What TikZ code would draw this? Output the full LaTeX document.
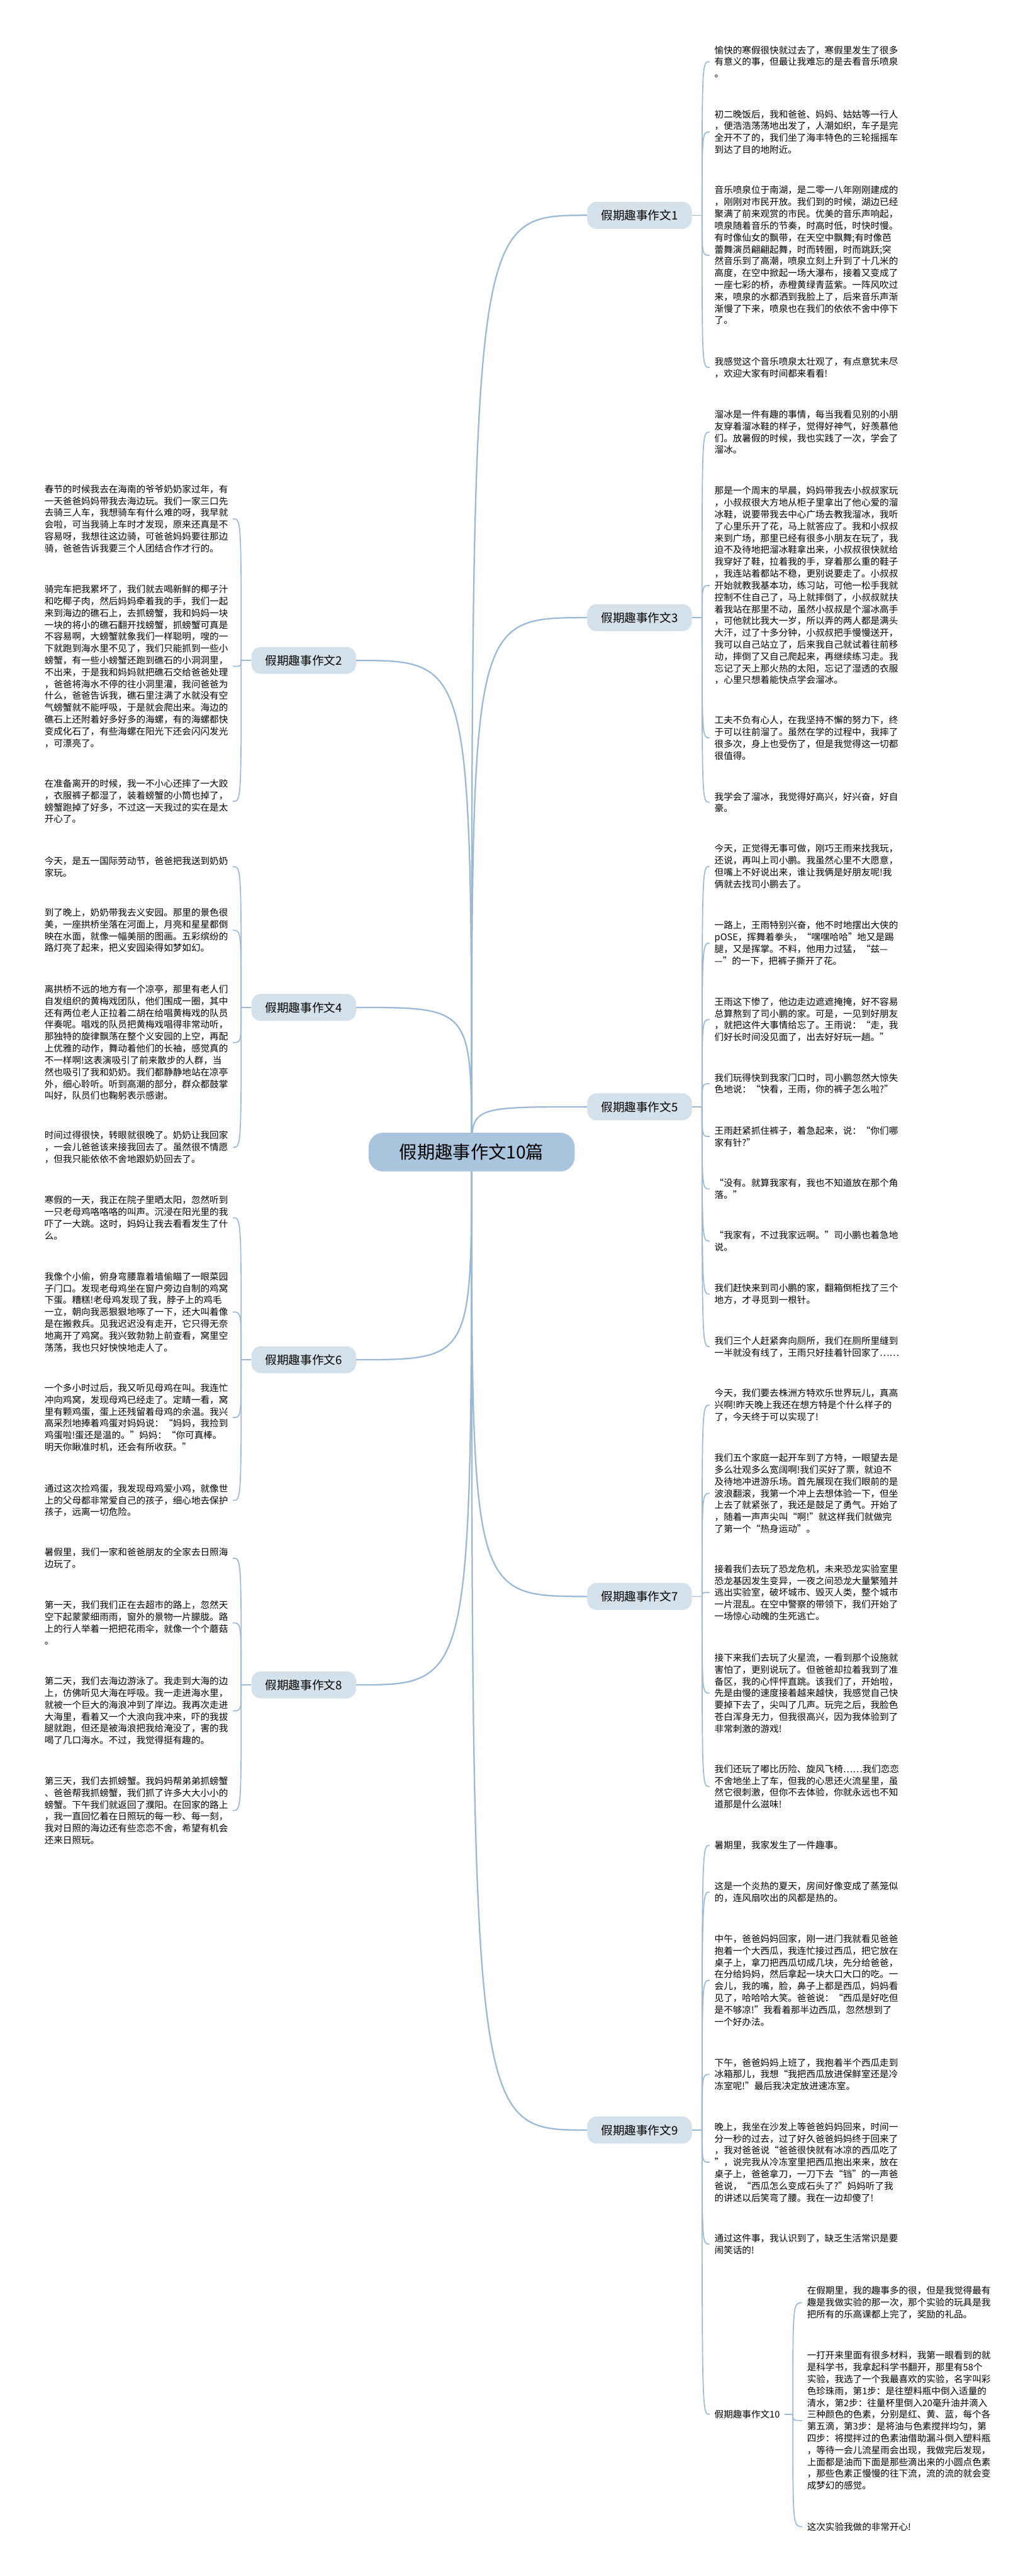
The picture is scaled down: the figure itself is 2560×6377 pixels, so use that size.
\documentclass[tikz,border=0pt]{standalone}
\usepackage{fontspec}
\setmainfont{Noto Sans CJK SC}
\definecolor{linkblue}{RGB}{155,184,213}
\definecolor{topicfill}{RGB}{213,225,234}
\definecolor{rootfill}{RGB}{170,196,221}

\begin{document}
\begin{tikzpicture}[x=1pt,y=1pt,yscale=-1,xscale=1,
    leafbox/.style={anchor=north west, inner xsep=12pt, inner ysep=0pt, align=left, font=\fontsize{22.7pt}{29.3pt}\selectfont},
    topicbox/.style={fill=topicfill, rounded corners=24pt, minimum width=259pt, minimum height=67pt, inner sep=0pt, font=\fontsize{29pt}{34pt}\selectfont},
    rootbox/.style={fill=rootfill, rounded corners=36pt, minimum width=510pt, minimum height=96pt, inner sep=0pt, font=\fontsize{44pt}{52pt}\selectfont},
    mainlink/.style={draw=linkblue, line width=3.5pt},
    sublink/.style={draw=linkblue, line width=2.6pt}]
        \useasboundingbox (0,0) rectangle (2560,6377);
        \fill [white] (0,0) rectangle (2560,6377);
        % Topic Node
        \node (b1) [topicbox] at (1582.5,533) {假期趣事作文1};
        \node (b3) [topicbox] at (1582.5,1529) {假期趣事作文3};
        \node (b5) [topicbox] at (1582.5,2740) {假期趣事作文5};
        \node (b7) [topicbox] at (1582.5,3952) {假期趣事作文7};
        \node (b9) [topicbox] at (1582.5,5273) {假期趣事作文9};
        \node (b2) [topicbox] at (751.5,1635) {假期趣事作文2};
        \node (b4) [topicbox] at (751.5,2494) {假期趣事作文4};
        \node (b6) [topicbox] at (751.5,3366) {假期趣事作文6};
        \node (b8) [topicbox] at (751.5,4171) {假期趣事作文8};
        \node (b10) [leafbox, anchor=west] at (1756,5977) {假期趣事作文10};
        % Connection
        \coordinate (rc) at (1167,2852);
        \draw [mainlink] (rc) .. controls (rc |- b1.west) .. (b1.west);
        \draw [mainlink] (rc) .. controls (rc |- b3.west) .. (b3.west);
        \draw [mainlink] (rc) .. controls (rc |- b5.west) .. (b5.west);
        \draw [mainlink] (rc) .. controls (rc |- b7.west) .. (b7.west);
        \draw [mainlink] (rc) .. controls (rc |- b9.west) .. (b9.west);
        \draw [mainlink] (rc) .. controls (rc |- b2.east) .. (b2.east);
        \draw [mainlink] (rc) .. controls (rc |- b4.east) .. (b4.east);
        \draw [mainlink] (rc) .. controls (rc |- b6.east) .. (b6.east);
        \draw [mainlink] (rc) .. controls (rc |- b8.east) .. (b8.east);
        % Root Node
        \node (root) [rootbox] at (rc) {假期趣事作文10篇};

        % Text Node
        \node (c1a) [leafbox] at (1756,113) {愉快的寒假很快就过去了，寒假里发生了很多\\有意义的事，但最让我难忘的是去看音乐喷泉\\。};
        \node (c1b) [leafbox] at (1756,272) {初二晚饭后，我和爸爸、妈妈、姑姑等一行人\\，便浩浩荡荡地出发了，人潮如织，车子是完\\全开不了的，我们坐了海丰特色的三轮摇摇车\\到达了目的地附近。};
        \node (c1c) [leafbox] at (1756,460) {音乐喷泉位于南湖，是二零一八年刚刚建成的\\，刚刚对市民开放。我们到的时候，湖边已经\\聚满了前来观赏的市民。优美的音乐声响起，\\喷泉随着音乐的节奏，时高时低，时快时慢。\\有时像仙女的飘带，在天空中飘舞;有时像芭\\蕾舞演员翩翩起舞，时而转圈，时而跳跃;突\\然音乐到了高潮，喷泉立刻上升到了十几米的\\高度，在空中掀起一场大瀑布，接着又变成了\\一座七彩的桥，赤橙黄绿青蓝紫。一阵风吹过\\来，喷泉的水都洒到我脸上了，后来音乐声渐\\渐慢了下来，喷泉也在我们的依依不舍中停下\\了。};
        \node (c1d) [leafbox] at (1756,884) {我感觉这个音乐喷泉太壮观了，有点意犹未尽\\，欢迎大家有时间都来看看!};
        % Text Node
        \node (c3a) [leafbox] at (1756,1015) {溜冰是一件有趣的事情，每当我看见别的小朋\\友穿着溜冰鞋的样子，觉得好神气，好羡慕他\\们。放暑假的时候，我也实践了一次，学会了\\溜冰。};
        \node (c3b) [leafbox] at (1756,1204) {那是一个周末的早晨，妈妈带我去小叔叔家玩\\，小叔叔很大方地从柜子里拿出了他心爱的溜\\冰鞋，说要带我去中心广场去教我溜冰，我听\\了心里乐开了花，马上就答应了。我和小叔叔\\来到广场，那里已经有很多小朋友在玩了，我\\迫不及待地把溜冰鞋拿出来，小叔叔很快就给\\我穿好了鞋，拉着我的手，穿着那么重的鞋子\\，我连站着都站不稳，更别说要走了。小叔叔\\开始就教我基本功，练习站，可他一松手我就\\控制不住自己了，马上就摔倒了，小叔叔就扶\\着我站在那里不动，虽然小叔叔是个溜冰高手\\，可他就比我大一岁，所以弄的两人都是满头\\大汗，过了十多分钟，小叔叔把手慢慢送开，\\我可以自己站立了，后来我自己就试着往前移\\动，摔倒了又自己爬起来，再继续练习走。我\\忘记了天上那火热的太阳，忘记了湿透的衣服\\，心里只想着能快点学会溜冰。};
        \node (c3c) [leafbox] at (1756,1772) {工夫不负有心人，在我坚持不懈的努力下，终\\于可以往前溜了。虽然在学的过程中，我摔了\\很多次，身上也受伤了，但是我觉得这一切都\\很值得。};
        \node (c3d) [leafbox] at (1756,1961) {我学会了溜冰，我觉得好高兴，好兴奋，好自\\豪。};
        % Text Node
        \node (c5a) [leafbox] at (1756,2090) {今天，正觉得无事可做，刚巧王雨来找我玩，\\还说，再叫上司小鹏。我虽然心里不大愿意，\\但嘴上不好说出来，谁让我俩是好朋友呢!我\\俩就去找司小鹏去了。};
        \node (c5b) [leafbox] at (1756,2280) {一路上，王雨特别兴奋，他不时地摆出大侠的\\pOSE，挥舞着拳头，“嘿嘿哈哈”地又是踢\\腿，又是挥掌。不料，他用力过猛，“兹—\\—”的一下，把裤子撕开了花。};
        \node (c5c) [leafbox] at (1756,2469) {王雨这下惨了，他边走边遮遮掩掩，好不容易\\总算熬到了司小鹏的家。可是，一见到好朋友\\，就把这件大事情给忘了。王雨说：“走，我\\们好长时间没见面了，出去好好玩一趟。”};
        \node (c5d) [leafbox] at (1756,2657) {我们玩得快到我家门口时，司小鹏忽然大惊失\\色地说：“快看，王雨，你的裤子怎么啦?”};
        \node (c5e) [leafbox] at (1756,2788) {王雨赶紧抓住裤子，着急起来，说：“你们哪\\家有针?”};
        \node (c5f) [leafbox] at (1756,2918) {“没有。就算我家有，我也不知道放在那个角\\落。”};
        \node (c5g) [leafbox] at (1756,3047) {“我家有，不过我家远啊。”司小鹏也着急地\\说。};
        \node (c5h) [leafbox] at (1756,3178) {我们赶快来到司小鹏的家，翻箱倒柜找了三个\\地方，才寻觅到一根针。};
        \node (c5i) [leafbox] at (1756,3308) {我们三个人赶紧奔向厕所，我们在厕所里缝到\\一半就没有线了，王雨只好挂着针回家了……};
        % Text Node
        \node (c7a) [leafbox] at (1756,3438) {今天，我们要去株洲方特欢乐世界玩儿，真高\\兴啊!昨天晚上我还在想方特是个什么样子的\\了，今天终于可以实现了!};
        \node (c7b) [leafbox] at (1756,3598) {我们五个家庭一起开车到了方特，一眼望去是\\多么壮观多么宽阔啊!我们买好了票，就迫不\\及待地冲进游乐场。首先展现在我们眼前的是\\波浪翻滚，我第一个冲上去想体验一下，但坐\\上去了就紧张了，我还是鼓足了勇气。开始了\\，随着一声声尖叫“啊!”就这样我们就做完\\了第一个“热身运动”。};
        \node (c7c) [leafbox] at (1756,3873) {接着我们去玩了恐龙危机，未来恐龙实验室里\\恐龙基因发生变异，一夜之间恐龙大量繁殖并\\逃出实验室，破坏城市、毁灭人类，整个城市\\一片混乱。在空中警察的带领下，我们开始了\\一场惊心动魄的生死逃亡。};
        \node (c7d) [leafbox] at (1756,4093) {接下来我们去玩了火星流，一看到那个设施就\\害怕了，更别说玩了。但爸爸却拉着我到了准\\备区，我的心怦怦直跳。该我们了，开始啦，\\先是由慢的速度接着越来越快，我感觉自己快\\要掉下去了，尖叫了几声。玩完之后，我脸色\\苍白浑身无力，但我很高兴，因为我体验到了\\非常刺激的游戏!};
        \node (c7e) [leafbox] at (1756,4368) {我们还玩了嘟比历险、旋风飞椅……我们恋恋\\不舍地坐上了车，但我的心思还火流星里，虽\\然它很刺激，但你不去体验，你就永远也不知\\道那是什么滋味!};
        % Text Node
        \node (c9a) [leafbox] at (1756,4557) {暑期里，我家发生了一件趣事。};
        \node (c9b) [leafbox] at (1756,4658) {这是一个炎热的夏天，房间好像变成了蒸笼似\\的，连风扇吹出的风都是热的。};
        \node (c9c) [leafbox] at (1756,4789) {中午，爸爸妈妈回家，刚一进门我就看见爸爸\\抱着一个大西瓜，我连忙接过西瓜，把它放在\\桌子上，拿刀把西瓜切成几块，先分给爸爸，\\在分给妈妈，然后拿起一块大口大口的吃。一\\会儿，我的嘴，脸，鼻子上都是西瓜，妈妈看\\见了，哈哈哈大笑。爸爸说：“西瓜是好吃但\\是不够凉!”我看着那半边西瓜，忽然想到了\\一个好办法。};
        \node (c9d) [leafbox] at (1756,5095) {下午，爸爸妈妈上班了，我抱着半个西瓜走到\\冰箱那儿，我想“我把西瓜放进保鲜室还是冷\\冻室呢!”最后我决定放进速冻室。};
        \node (c9e) [leafbox] at (1756,5254) {晚上，我坐在沙发上等爸爸妈妈回来，时间一\\分一秒的过去，过了好久爸爸妈妈终于回来了\\，我对爸爸说“爸爸很快就有冰凉的西瓜吃了\\”，说完我从冷冻室里把西瓜抱出来来，放在\\桌子上，爸爸拿刀，一刀下去“铛”的一声爸\\爸说，“西瓜怎么变成石头了?”妈妈听了我\\的讲述以后笑弯了腰。我在一边却傻了!};
        \node (c9f) [leafbox] at (1756,5530) {通过这件事，我认识到了，缺乏生活常识是要\\闹笑话的!};
        % Text Node
        \node (c10a) [leafbox] at (1985,5660) {在假期里，我的趣事多的很，但是我觉得最有\\趣是我做实验的那一次，那个实验的玩具是我\\把所有的乐高课都上完了，奖励的礼品。};
        \node (c10b) [leafbox] at (1985,5820) {一打开来里面有很多材料，我第一眼看到的就\\是科学书，我拿起科学书翻开，那里有58个\\实验，我选了一个我最喜欢的实验，名字叫彩\\色珍珠雨，第1步：是往塑料瓶中倒入适量的\\清水，第2步：往量杯里倒入20毫升油并滴入\\三种颜色的色素，分别是红、黄、蓝，每个各\\第五滴，第3步：是将油与色素搅拌均匀，第\\四步：将搅拌过的色素油借助漏斗倒入塑料瓶\\，等待一会儿流星雨会出现，我做完后发现，\\上面都是油而下面是那些滴出来的小圆点色素\\，那些色素正慢慢的往下流，流的流的就会变\\成梦幻的感觉。};
        \node (c10c) [leafbox] at (1985,6244) {这次实验我做的非常开心!};
        % Text Node
        \node (c2a) [leafbox] at (98,1200) {春节的时候我去在海南的爷爷奶奶家过年，有\\一天爸爸妈妈带我去海边玩。我们一家三口先\\去骑三人车，我想骑车有什么难的呀，我早就\\会啦，可当我骑上车时才发现，原来还真是不\\容易呀，我想往这边骑，可爸爸妈妈要往那边\\骑，爸爸告诉我要三个人团结合作才行的。};
        \node (c2b) [leafbox] at (98,1448) {骑完车把我累坏了，我们就去喝新鲜的椰子汁\\和吃椰子肉，然后妈妈牵着我的手，我们一起\\来到海边的礁石上，去抓螃蟹，我和妈妈一块\\一块的将小的礁石翻开找螃蟹，抓螃蟹可真是\\不容易啊，大螃蟹就象我们一样聪明，嗖的一\\下就跑到海水里不见了，我们只能抓到一些小\\螃蟹，有一些小螃蟹还跑到礁石的小洞洞里，\\不出来，于是我和妈妈就把礁石交给爸爸处理\\，爸爸将海水不停的往小洞里灌，我问爸爸为\\什么，爸爸告诉我，礁石里注满了水就没有空\\气螃蟹就不能呼吸，于是就会爬出来。海边的\\礁石上还附着好多好多的海螺，有的海螺都快\\变成化石了，有些海螺在阳光下还会闪闪发光\\，可漂亮了。};
        \node (c2c) [leafbox] at (98,1929) {在准备离开的时候，我一不小心还摔了一大跤\\，衣服裤子都湿了，装着螃蟹的小筒也掉了，\\螃蟹跑掉了好多，不过这一天我过的实在是太\\开心了。};
        % Text Node
        \node (c4a) [leafbox] at (98,2120) {今天，是五一国际劳动节，爸爸把我送到奶奶\\家玩。};
        \node (c4b) [leafbox] at (98,2248) {到了晚上，奶奶带我去义安园。那里的景色很\\美，一座拱桥坐落在河面上，月亮和星星都倒\\映在水面，就像一幅美丽的图画。五彩缤纷的\\路灯亮了起来，把义安园染得如梦如幻。};
        \node (c4c) [leafbox] at (98,2438) {离拱桥不远的地方有一个凉亭，那里有老人们\\自发组织的黄梅戏团队，他们围成一圈，其中\\还有两位老人正拉着二胡在给唱黄梅戏的队员\\伴奏呢。唱戏的队员把黄梅戏唱得非常动听，\\那独特的旋律飘荡在整个义安园的上空，再配\\上优雅的动作，舞动着他们的长袖，感觉真的\\不一样啊!这表演吸引了前来散步的人群，当\\然也吸引了我和奶奶。我们都静静地站在凉亭\\外，细心聆听。听到高潮的部分，群众都鼓掌\\叫好，队员们也鞠躬表示感谢。};
        \node (c4d) [leafbox] at (98,2800) {时间过得很快，转眼就很晚了。奶奶让我回家\\，一会儿爸爸该来接我回去了。虽然很不情愿\\，但我只能依依不舍地跟奶奶回去了。};
        % Text Node
        \node (c6a) [leafbox] at (98,2960) {寒假的一天，我正在院子里晒太阳，忽然听到\\一只老母鸡咯咯咯的叫声。沉浸在阳光里的我\\吓了一大跳。这时，妈妈让我去看看发生了什\\么。};
        \node (c6b) [leafbox] at (98,3149) {我像个小偷，俯身弯腰靠着墙偷瞄了一眼菜园\\子门口。发现老母鸡坐在窗户旁边自制的鸡窝\\下蛋。糟糕!老母鸡发现了我，脖子上的鸡毛\\一立，朝向我恶狠狠地啄了一下，还大叫着像\\是在搬救兵。见我迟迟没有走开，它只得无奈\\地离开了鸡窝。我兴致勃勃上前查看，窝里空\\荡荡，我也只好怏怏地走人了。};
        \node (c6c) [leafbox] at (98,3425) {一个多小时过后，我又听见母鸡在叫。我连忙\\冲向鸡窝，发现母鸡已经走了。定睛一看，窝\\里有颗鸡蛋，蛋上还残留着母鸡的余温。我兴\\高采烈地捧着鸡蛋对妈妈说：“妈妈，我捡到\\鸡蛋啦!蛋还是温的。”妈妈：“你可真棒。\\明天你瞅准时机，还会有所收获。”};
        \node (c6d) [leafbox] at (98,3674) {通过这次捡鸡蛋，我发现母鸡爱小鸡，就像世\\上的父母都非常爱自己的孩子，细心地去保护\\孩子，远离一切危险。};
        % Text Node
        \node (c8a) [leafbox] at (98,3832) {暑假里，我们一家和爸爸朋友的全家去日照海\\边玩了。};
        \node (c8b) [leafbox] at (98,3963) {第一天，我们我们正在去超市的路上，忽然天\\空下起蒙蒙细雨雨，窗外的景物一片朦胧。路\\上的行人举着一把把花雨伞，就像一个个蘑菇\\。};
        \node (c8c) [leafbox] at (98,4151) {第二天，我们去海边游泳了。我走到大海的边\\上，仿佛听见大海在呼吸。我一走进海水里，\\就被一个巨大的海浪冲到了岸边。我再次走进\\大海里，看着又一个大浪向我冲来，吓的我拔\\腿就跑，但还是被海浪把我给淹没了，害的我\\喝了几口海水。不过，我觉得挺有趣的。};
        \node (c8d) [leafbox] at (98,4398) {第三天，我们去抓螃蟹。我妈妈帮弟弟抓螃蟹\\、爸爸帮我抓螃蟹，我们抓了许多大大小小的\\螃蟹。下午我们就返回了濮阳。在回家的路上\\，我一直回忆着在日照玩的每一秒、每一刻，\\我对日照的海边还有些恋恋不舍，希望有机会\\还来日照玩。};

        % Connection
        \coordinate (s1) at ([xshift=25pt]b1.east);
        \draw [sublink] (b1.east) -- (s1);
        \draw [sublink] (s1) .. controls (s1 |- c1a.west) .. (c1a.west);
        \draw [sublink] (s1) .. controls (s1 |- c1b.west) .. (c1b.west);
        \draw [sublink] (s1) .. controls (s1 |- c1c.west) .. (c1c.west);
        \draw [sublink] (s1) .. controls (s1 |- c1d.west) .. (c1d.west);
        % Connection
        \coordinate (s3) at ([xshift=25pt]b3.east);
        \draw [sublink] (b3.east) -- (s3);
        \draw [sublink] (s3) .. controls (s3 |- c3a.west) .. (c3a.west);
        \draw [sublink] (s3) .. controls (s3 |- c3b.west) .. (c3b.west);
        \draw [sublink] (s3) .. controls (s3 |- c3c.west) .. (c3c.west);
        \draw [sublink] (s3) .. controls (s3 |- c3d.west) .. (c3d.west);
        % Connection
        \coordinate (s5) at ([xshift=25pt]b5.east);
        \draw [sublink] (b5.east) -- (s5);
        \draw [sublink] (s5) .. controls (s5 |- c5a.west) .. (c5a.west);
        \draw [sublink] (s5) .. controls (s5 |- c5b.west) .. (c5b.west);
        \draw [sublink] (s5) .. controls (s5 |- c5c.west) .. (c5c.west);
        \draw [sublink] (s5) .. controls (s5 |- c5d.west) .. (c5d.west);
        \draw [sublink] (s5) .. controls (s5 |- c5e.west) .. (c5e.west);
        \draw [sublink] (s5) .. controls (s5 |- c5f.west) .. (c5f.west);
        \draw [sublink] (s5) .. controls (s5 |- c5g.west) .. (c5g.west);
        \draw [sublink] (s5) .. controls (s5 |- c5h.west) .. (c5h.west);
        \draw [sublink] (s5) .. controls (s5 |- c5i.west) .. (c5i.west);
        % Connection
        \coordinate (s7) at ([xshift=25pt]b7.east);
        \draw [sublink] (b7.east) -- (s7);
        \draw [sublink] (s7) .. controls (s7 |- c7a.west) .. (c7a.west);
        \draw [sublink] (s7) .. controls (s7 |- c7b.west) .. (c7b.west);
        \draw [sublink] (s7) .. controls (s7 |- c7c.west) .. (c7c.west);
        \draw [sublink] (s7) .. controls (s7 |- c7d.west) .. (c7d.west);
        \draw [sublink] (s7) .. controls (s7 |- c7e.west) .. (c7e.west);
        % Connection
        \coordinate (s9) at ([xshift=25pt]b9.east);
        \draw [sublink] (b9.east) -- (s9);
        \draw [sublink] (s9) .. controls (s9 |- c9a.west) .. (c9a.west);
        \draw [sublink] (s9) .. controls (s9 |- c9b.west) .. (c9b.west);
        \draw [sublink] (s9) .. controls (s9 |- c9c.west) .. (c9c.west);
        \draw [sublink] (s9) .. controls (s9 |- c9d.west) .. (c9d.west);
        \draw [sublink] (s9) .. controls (s9 |- c9e.west) .. (c9e.west);
        \draw [sublink] (s9) .. controls (s9 |- c9f.west) .. (c9f.west);
        \draw [sublink] (s9) .. controls (s9 |- b10.west) .. (b10.west);
        % Connection
        \coordinate (s10) at ([xshift=20pt]b10.east);
        \draw [sublink] (b10.east) -- (s10);
        \draw [sublink] (s10) .. controls (s10 |- c10a.west) .. (c10a.west);
        \draw [sublink] (s10) .. controls (s10 |- c10b.west) .. (c10b.west);
        \draw [sublink] (s10) .. controls (s10 |- c10c.west) .. (c10c.west);
        % Connection
        \coordinate (s2) at ([xshift=-25pt]b2.west);
        \draw [sublink] (b2.west) -- (s2);
        \draw [sublink] (s2) .. controls (s2 |- c2a.east) .. (c2a.east);
        \draw [sublink] (s2) .. controls (s2 |- c2b.east) .. (c2b.east);
        \draw [sublink] (s2) .. controls (s2 |- c2c.east) .. (c2c.east);
        % Connection
        \coordinate (s4) at ([xshift=-25pt]b4.west);
        \draw [sublink] (b4.west) -- (s4);
        \draw [sublink] (s4) .. controls (s4 |- c4a.east) .. (c4a.east);
        \draw [sublink] (s4) .. controls (s4 |- c4b.east) .. (c4b.east);
        \draw [sublink] (s4) .. controls (s4 |- c4c.east) .. (c4c.east);
        \draw [sublink] (s4) .. controls (s4 |- c4d.east) .. (c4d.east);
        % Connection
        \coordinate (s6) at ([xshift=-25pt]b6.west);
        \draw [sublink] (b6.west) -- (s6);
        \draw [sublink] (s6) .. controls (s6 |- c6a.east) .. (c6a.east);
        \draw [sublink] (s6) .. controls (s6 |- c6b.east) .. (c6b.east);
        \draw [sublink] (s6) .. controls (s6 |- c6c.east) .. (c6c.east);
        \draw [sublink] (s6) .. controls (s6 |- c6d.east) .. (c6d.east);
        % Connection
        \coordinate (s8) at ([xshift=-25pt]b8.west);
        \draw [sublink] (b8.west) -- (s8);
        \draw [sublink] (s8) .. controls (s8 |- c8a.east) .. (c8a.east);
        \draw [sublink] (s8) .. controls (s8 |- c8b.east) .. (c8b.east);
        \draw [sublink] (s8) .. controls (s8 |- c8c.east) .. (c8c.east);
        \draw [sublink] (s8) .. controls (s8 |- c8d.east) .. (c8d.east);
    \end{tikzpicture}
\end{document}
